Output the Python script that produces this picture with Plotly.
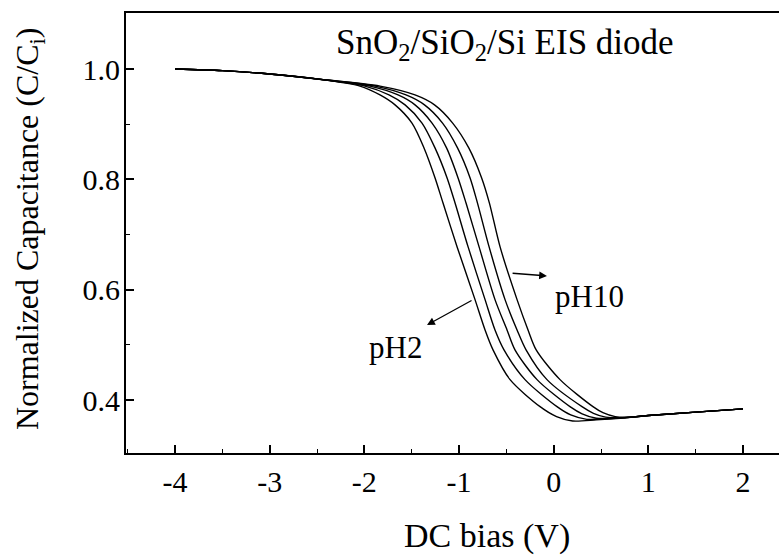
import plotly.graph_objects as go

# Shared accumulation region (all pH curves overlap here)
bias_head = [-4.0, -3.5, -3.0, -2.5]
cap_head = [1.000, 0.997, 0.991, 0.982]

# Shared inversion tail
bias_tail = [1.0, 1.5, 2.0]
cap_tail = [0.372, 0.378, 0.384]

# Individual transition regions
bias_ph2 = [-2.046, -1.835, -1.676, -1.497, -1.370, -1.254, -1.169, -1.021, -0.831, -0.725, -0.641, -0.461, -0.144, 0.03, 0.2, 0.45, 0.7]
cap_ph2 = [0.969, 0.953, 0.935, 0.902, 0.857, 0.803, 0.757, 0.678, 0.582, 0.527, 0.491, 0.437, 0.388, 0.370, 0.362, 0.364, 0.367]

bias_ph4 = [-1.993, -1.740, -1.570, -1.391, -1.254, -1.127, -1.042, -0.905, -0.725, -0.620, -0.525, -0.303, 0.035, 0.18, 0.35, 0.55, 0.75]
cap_ph4 = [0.969, 0.953, 0.935, 0.902, 0.857, 0.803, 0.757, 0.678, 0.582, 0.527, 0.491, 0.437, 0.388, 0.373, 0.365, 0.366, 0.368]

bias_ph6 = [-1.940, -1.644, -1.465, -1.285, -1.132, -1.011, -0.926, -0.789, -0.620, -0.493, -0.409, -0.176, 0.172, 0.30, 0.45, 0.65, 0.8]
cap_ph6 = [0.969, 0.953, 0.935, 0.902, 0.857, 0.803, 0.757, 0.678, 0.582, 0.527, 0.491, 0.437, 0.388, 0.375, 0.367, 0.367, 0.369]

bias_ph8 = [-1.887, -1.560, -1.365, -1.174, -1.016, -0.884, -0.805, -0.683, -0.514, -0.387, -0.292, -0.071, 0.299, 0.42, 0.55, 0.75]
cap_ph8 = [0.969, 0.953, 0.935, 0.902, 0.857, 0.803, 0.757, 0.678, 0.582, 0.527, 0.491, 0.437, 0.388, 0.376, 0.369, 0.368]

bias_ph10 = [-1.835, -1.465, -1.259, -1.067, -0.897, -0.762, -0.679, -0.567, -0.387, -0.271, -0.185, 0.067, 0.415, 0.52, 0.65, 0.8]
cap_ph10 = [0.969, 0.953, 0.935, 0.902, 0.857, 0.803, 0.757, 0.678, 0.582, 0.527, 0.491, 0.437, 0.388, 0.377, 0.370, 0.369]

curves = {
    "pH2": (bias_ph2, cap_ph2),
    "pH4": (bias_ph4, cap_ph4),
    "pH6": (bias_ph6, cap_ph6),
    "pH8": (bias_ph8, cap_ph8),
    "pH10": (bias_ph10, cap_ph10),
}

x_ticks = [-4, -3, -2, -1, 0, 1, 2]
y_ticks = [0.4, 0.6, 0.8, 1.0]

FONT = "Liberation Serif, Times New Roman, serif"

fig = go.Figure()
for name, (bx, cy) in curves.items():
    fig.add_trace(go.Scatter(
        x=bias_head + bx + bias_tail,
        y=cap_head + cy + cap_tail,
        mode="lines",
        name=name,
        line=dict(color="black", width=1.4, shape="spline", smoothing=0.8),
        showlegend=False,
        hoverinfo="skip",
    ))

fig.update_layout(
    width=779, height=555,
    margin=dict(l=126, r=0, t=13, b=102),
    paper_bgcolor="white",
    plot_bgcolor="white",
    font=dict(family=FONT, color="black"),
    showlegend=False,
)

fig.update_xaxes(
    range=[-4.518, 2.38],
    tickvals=x_ticks,
    ticktext=[str(v) for v in x_ticks],
    ticks="inside", ticklen=8, tickwidth=1.5, tickcolor="black",
    minor=dict(dtick=0.5, tick0=0, ticks="inside", ticklen=4, tickwidth=1.2, tickcolor="black"),
    showline=True, linecolor="black", linewidth=1.8, mirror=True,
    showgrid=False, zeroline=False,
    tickfont=dict(family=FONT, size=30, color="black"),
    ticklabelstandoff=1,
)
fig.update_yaxes(
    range=[0.304, 1.1015],
    tickvals=y_ticks,
    ticktext=["%.1f" % v for v in y_ticks],
    ticks="inside", ticklen=8, tickwidth=1.5, tickcolor="black",
    minor=dict(dtick=0.1, tick0=0, ticks="inside", ticklen=4, tickwidth=1.2, tickcolor="black"),
    showline=True, linecolor="black", linewidth=1.8, mirror=False,
    showgrid=False, zeroline=False,
    tickfont=dict(family=FONT, size=30, color="black"),
    ticklabelstandoff=-2,
)

fig.add_annotation(
    text="SnO<sub>2</sub>/SiO<sub>2</sub>/Si EIS diode",
    x=-0.514, y=1.045, xref="x", yref="y",
    showarrow=False, font=dict(family=FONT, size=35, color="black"),
    xanchor="center", yanchor="middle",
)
fig.add_annotation(
    text="pH10", x=0.383, y=0.587, xref="x", yref="y",
    showarrow=False, font=dict(family=FONT, size=31, color="black"),
    xanchor="center", yanchor="middle",
)
fig.add_annotation(
    text="pH2", x=-1.676, y=0.495, xref="x", yref="y",
    showarrow=False, font=dict(family=FONT, size=31, color="black"),
    xanchor="center", yanchor="middle",
)
# arrows
fig.add_annotation(
    x=-0.071, y=0.625, ax=-0.45, ay=0.630,
    xref="x", yref="y", axref="x", ayref="y",
    text="", showarrow=True, arrowhead=2, arrowsize=1.2, arrowwidth=1.3, arrowcolor="black",
)
fig.add_annotation(
    x=-1.338, y=0.536, ax=-0.852, ay=0.582,
    xref="x", yref="y", axref="x", ayref="y",
    text="", showarrow=True, arrowhead=2, arrowsize=1.2, arrowwidth=1.3, arrowcolor="black",
)
# axis titles
fig.add_annotation(
    text="DC bias (V)", x=-0.704, y=-0.189, xref="x", yref="paper",
    showarrow=False, font=dict(family=FONT, size=34, color="black"),
    xanchor="center", yanchor="middle",
)
fig.add_annotation(
    text="Normalized Capacitance (C/C<sub>i</sub>)", x=-0.1485, y=0.509,
    xref="paper", yref="paper", textangle=-90,
    showarrow=False, font=dict(family=FONT, size=32, color="black"),
    xanchor="center", yanchor="middle",
)

fig.write_html(
    "out.html",
    config={"displayModeBar": False},
    post_script="document.body.style.margin='0px';document.body.style.overflow='hidden';",
)
